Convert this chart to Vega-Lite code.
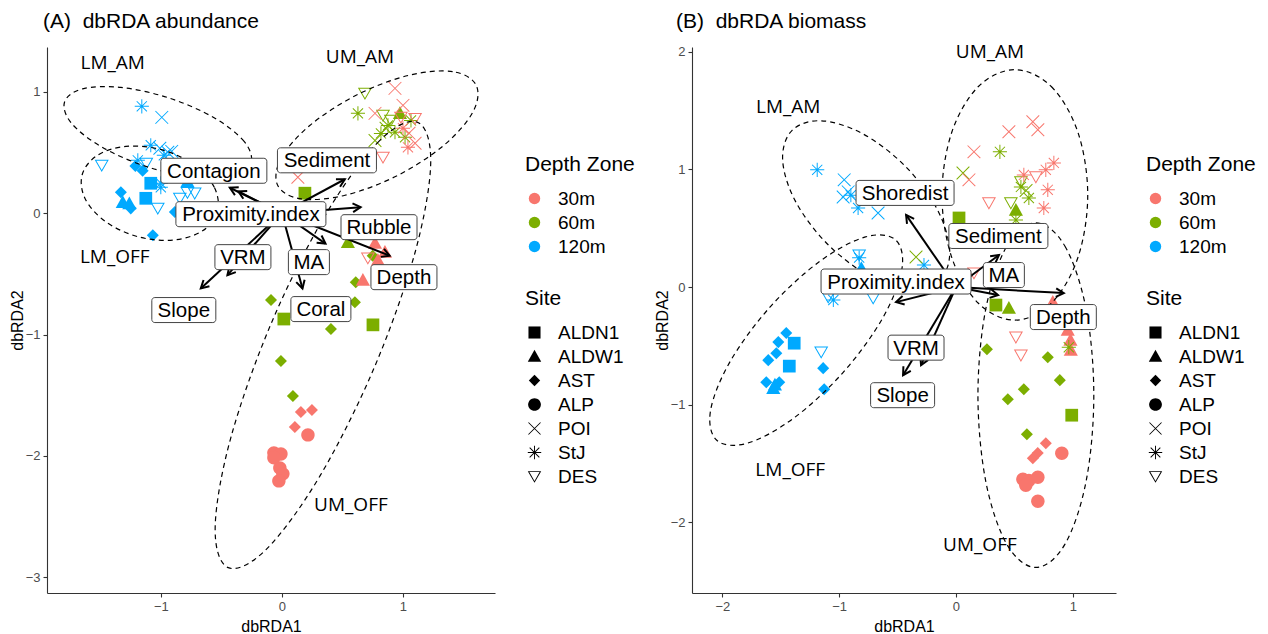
{
  "$schema": "https://vega.github.io/schema/vega-lite/v6.json",
  "background": "white",
  "padding": {"left": 9, "top": 10, "right": 5, "bottom": 5},
  "config": {
    "font": "Liberation Sans",
    "view": {"stroke": null},
    "axis": {
      "grid": false,
      "domainColor": "#333333",
      "domainWidth": 1.1,
      "tickColor": "#333333",
      "tickWidth": 1.1,
      "tickSize": 4,
      "labelPadding": 3,
      "labelColor": "#4D4D4D",
      "labelFont": "Liberation Sans",
      "labelFontSize": 13,
      "titleFont": "Liberation Sans",
      "titleFontSize": 16,
      "titleFontWeight": "normal",
      "titleColor": "black"
    },
    "axisX": {"titlePadding": 5},
    "axisY": {"titlePadding": 0},
    "title": {
      "font": "Liberation Sans",
      "fontSize": 21,
      "fontWeight": "normal",
      "color": "black",
      "anchor": "start",
      "frame": "group"
    },
    "legend": {
      "titleFont": "Liberation Sans",
      "titleFontSize": 21,
      "titleFontWeight": "normal",
      "titleColor": "black",
      "titlePadding": 14,
      "labelFont": "Liberation Sans",
      "labelFontSize": 19,
      "labelColor": "black",
      "labelOffset": 14,
      "rowPadding": 4,
      "offset": 30,
      "layout": {"right": {"anchor": "middle", "direction": "vertical", "margin": 31}}
    }
  },
  "datasets": {
    "sitesA": [
      {"x": -1.157, "y": 0.881, "Depth": "120m", "Site": "StJ"},
      {"x": -0.992, "y": 0.79, "Depth": "120m", "Site": "POI"},
      {"x": -1.083, "y": 0.56, "Depth": "120m", "Site": "StJ"},
      {"x": -1.008, "y": 0.535, "Depth": "120m", "Site": "POI"},
      {"x": -0.942, "y": 0.502, "Depth": "120m", "Site": "POI"},
      {"x": -0.91, "y": 0.51, "Depth": "120m", "Site": "POI"},
      {"x": -0.975, "y": 0.477, "Depth": "120m", "Site": "StJ"},
      {"x": -1.19, "y": 0.436, "Depth": "120m", "Site": "StJ"},
      {"x": -1.488, "y": 0.395, "Depth": "120m", "Site": "DES"},
      {"x": -1.12, "y": 0.41, "Depth": "120m", "Site": "DES"},
      {"x": -1.21, "y": 0.39, "Depth": "120m", "Site": "AST"},
      {"x": -1.15, "y": 0.35, "Depth": "120m", "Site": "AST"},
      {"x": -1.083, "y": 0.247, "Depth": "120m", "Site": "ALDN1"},
      {"x": -1.0, "y": 0.247, "Depth": "120m", "Site": "StJ"},
      {"x": -1.0, "y": 0.214, "Depth": "120m", "Site": "StJ"},
      {"x": -1.124, "y": 0.123, "Depth": "120m", "Site": "ALDN1"},
      {"x": -1.33, "y": 0.173, "Depth": "120m", "Site": "AST"},
      {"x": -1.314, "y": 0.09, "Depth": "120m", "Site": "ALDW1"},
      {"x": -1.26, "y": 0.08, "Depth": "120m", "Site": "ALDW1"},
      {"x": -1.248, "y": 0.04, "Depth": "120m", "Site": "AST"},
      {"x": -1.025, "y": 0.04, "Depth": "120m", "Site": "DES"},
      {"x": -0.72, "y": 0.165, "Depth": "120m", "Site": "DES"},
      {"x": -0.78, "y": 0.17, "Depth": "120m", "Site": "DES"},
      {"x": -0.843, "y": 0.123, "Depth": "120m", "Site": "DES"},
      {"x": -0.78, "y": 0.26, "Depth": "120m", "Site": "ALDW1"},
      {"x": -0.884, "y": 0.01, "Depth": "120m", "Site": "AST"},
      {"x": -1.066, "y": -0.181, "Depth": "120m", "Site": "AST"},
      {"x": 0.686, "y": 0.988, "Depth": "60m", "Site": "DES"},
      {"x": 0.628, "y": 0.823, "Depth": "60m", "Site": "StJ"},
      {"x": 0.835, "y": 0.807, "Depth": "60m", "Site": "DES"},
      {"x": 0.975, "y": 0.823, "Depth": "60m", "Site": "ALDW1"},
      {"x": 0.876, "y": 0.724, "Depth": "60m", "Site": "StJ"},
      {"x": 0.934, "y": 0.667, "Depth": "60m", "Site": "StJ"},
      {"x": 1.017, "y": 0.626, "Depth": "60m", "Site": "StJ"},
      {"x": 0.818, "y": 0.658, "Depth": "60m", "Site": "StJ"},
      {"x": 0.769, "y": 0.6, "Depth": "60m", "Site": "POI"},
      {"x": 0.9, "y": 0.765, "Depth": "60m", "Site": "DES"},
      {"x": 1.066, "y": 0.765, "Depth": "60m", "Site": "StJ"},
      {"x": 0.86, "y": 0.7, "Depth": "60m", "Site": "POI"},
      {"x": 0.19, "y": 0.165, "Depth": "60m", "Site": "ALDN1"},
      {"x": 0.545, "y": -0.24, "Depth": "60m", "Site": "ALDW1"},
      {"x": 0.75, "y": -0.35, "Depth": "60m", "Site": "AST"},
      {"x": 0.61, "y": -0.568, "Depth": "60m", "Site": "AST"},
      {"x": 0.603, "y": -0.733, "Depth": "60m", "Site": "AST"},
      {"x": 0.405, "y": -0.955, "Depth": "60m", "Site": "AST"},
      {"x": 0.752, "y": -0.92, "Depth": "60m", "Site": "ALDN1"},
      {"x": 0.016, "y": -0.872, "Depth": "60m", "Site": "ALDN1"},
      {"x": -0.09, "y": -0.716, "Depth": "60m", "Site": "AST"},
      {"x": -0.008, "y": -1.218, "Depth": "60m", "Site": "AST"},
      {"x": 0.091, "y": -1.506, "Depth": "60m", "Site": "AST"},
      {"x": 0.934, "y": 1.029, "Depth": "30m", "Site": "POI"},
      {"x": 1.0, "y": 0.889, "Depth": "30m", "Site": "POI"},
      {"x": 0.769, "y": 0.823, "Depth": "30m", "Site": "POI"},
      {"x": 1.1, "y": 0.78, "Depth": "30m", "Site": "DES"},
      {"x": 0.983, "y": 0.79, "Depth": "30m", "Site": "DES"},
      {"x": 1.0, "y": 0.7, "Depth": "30m", "Site": "StJ"},
      {"x": 1.05, "y": 0.66, "Depth": "30m", "Site": "POI"},
      {"x": 1.041, "y": 0.543, "Depth": "30m", "Site": "StJ"},
      {"x": 1.1, "y": 0.576, "Depth": "30m", "Site": "POI"},
      {"x": 0.835, "y": 0.461, "Depth": "30m", "Site": "DES"},
      {"x": 0.132, "y": 0.296, "Depth": "30m", "Site": "POI"},
      {"x": 0.769, "y": -0.247, "Depth": "30m", "Site": "ALDW1"},
      {"x": 0.851, "y": -0.321, "Depth": "30m", "Site": "ALDW1"},
      {"x": 0.793, "y": -0.387, "Depth": "30m", "Site": "ALDW1"},
      {"x": 0.669, "y": -0.551, "Depth": "30m", "Site": "ALDW1"},
      {"x": 0.71, "y": -0.37, "Depth": "30m", "Site": "DES"},
      {"x": 0.157, "y": -1.638, "Depth": "30m", "Site": "AST"},
      {"x": 0.248, "y": -1.621, "Depth": "30m", "Site": "AST"},
      {"x": 0.107, "y": -1.761, "Depth": "30m", "Site": "AST"},
      {"x": 0.215, "y": -1.827, "Depth": "30m", "Site": "ALP"},
      {"x": -0.066, "y": -1.975, "Depth": "30m", "Site": "ALP"},
      {"x": -0.008, "y": -1.984, "Depth": "30m", "Site": "ALP"},
      {"x": -0.066, "y": -2.016, "Depth": "30m", "Site": "ALP"},
      {"x": -0.017, "y": -2.099, "Depth": "30m", "Site": "ALP"},
      {"x": 0.008, "y": -2.148, "Depth": "30m", "Site": "ALP"},
      {"x": -0.025, "y": -2.206, "Depth": "30m", "Site": "ALP"}
    ],
    "sitesB": [
      {"x": -1.188, "y": 0.996, "Depth": "120m", "Site": "StJ"},
      {"x": -0.957, "y": 0.911, "Depth": "120m", "Site": "POI"},
      {"x": -0.923, "y": 0.809, "Depth": "120m", "Site": "POI"},
      {"x": -0.966, "y": 0.766, "Depth": "120m", "Site": "POI"},
      {"x": -0.9, "y": 0.78, "Depth": "120m", "Site": "StJ"},
      {"x": -0.838, "y": 0.672, "Depth": "120m", "Site": "StJ"},
      {"x": -0.667, "y": 0.63, "Depth": "120m", "Site": "POI"},
      {"x": -0.829, "y": 0.272, "Depth": "120m", "Site": "DES"},
      {"x": -0.829, "y": 0.25, "Depth": "120m", "Site": "StJ"},
      {"x": -0.81, "y": 0.16, "Depth": "120m", "Site": "ALDW1"},
      {"x": -0.274, "y": 0.187, "Depth": "120m", "Site": "StJ"},
      {"x": -1.094, "y": -0.085, "Depth": "120m", "Site": "DES"},
      {"x": -1.05, "y": -0.11, "Depth": "120m", "Site": "StJ"},
      {"x": -0.709, "y": -0.094, "Depth": "120m", "Site": "DES"},
      {"x": -1.453, "y": -0.391, "Depth": "120m", "Site": "AST"},
      {"x": -1.521, "y": -0.468, "Depth": "120m", "Site": "AST"},
      {"x": -1.538, "y": -0.562, "Depth": "120m", "Site": "AST"},
      {"x": -1.607, "y": -0.621, "Depth": "120m", "Site": "AST"},
      {"x": -1.385, "y": -0.477, "Depth": "120m", "Site": "ALDN1"},
      {"x": -1.427, "y": -0.672, "Depth": "120m", "Site": "ALDN1"},
      {"x": -1.624, "y": -0.809, "Depth": "120m", "Site": "AST"},
      {"x": -1.513, "y": -0.809, "Depth": "120m", "Site": "AST"},
      {"x": -1.564, "y": -0.86, "Depth": "120m", "Site": "ALDW1"},
      {"x": -1.55, "y": -0.83, "Depth": "120m", "Site": "ALDW1"},
      {"x": -1.154, "y": -0.553, "Depth": "120m", "Site": "DES"},
      {"x": -1.137, "y": -0.689, "Depth": "120m", "Site": "AST"},
      {"x": -1.128, "y": -0.868, "Depth": "120m", "Site": "AST"},
      {"x": 0.376, "y": 1.149, "Depth": "60m", "Site": "StJ"},
      {"x": 0.06, "y": 0.97, "Depth": "60m", "Site": "POI"},
      {"x": 0.556, "y": 0.894, "Depth": "60m", "Site": "DES"},
      {"x": 0.556, "y": 0.851, "Depth": "60m", "Site": "StJ"},
      {"x": 0.6, "y": 0.82, "Depth": "60m", "Site": "POI"},
      {"x": 0.624, "y": 0.757, "Depth": "60m", "Site": "StJ"},
      {"x": 0.47, "y": 0.715, "Depth": "60m", "Site": "DES"},
      {"x": 0.513, "y": 0.655, "Depth": "60m", "Site": "ALDW1"},
      {"x": 0.513, "y": 0.57, "Depth": "60m", "Site": "StJ"},
      {"x": 0.026, "y": 0.587, "Depth": "60m", "Site": "ALDN1"},
      {"x": -0.342, "y": 0.255, "Depth": "60m", "Site": "POI"},
      {"x": 0.342, "y": -0.153, "Depth": "60m", "Site": "ALDN1"},
      {"x": 0.453, "y": -0.179, "Depth": "60m", "Site": "ALDW1"},
      {"x": 0.265, "y": -0.528, "Depth": "60m", "Site": "AST"},
      {"x": 0.786, "y": -0.596, "Depth": "60m", "Site": "AST"},
      {"x": 0.889, "y": -0.791, "Depth": "60m", "Site": "AST"},
      {"x": 0.581, "y": -0.868, "Depth": "60m", "Site": "AST"},
      {"x": 0.444, "y": -0.953, "Depth": "60m", "Site": "AST"},
      {"x": 0.991, "y": -1.089, "Depth": "60m", "Site": "ALDN1"},
      {"x": 0.607, "y": -1.251, "Depth": "60m", "Site": "AST"},
      {"x": 0.154, "y": 1.149, "Depth": "30m", "Site": "POI"},
      {"x": 0.453, "y": 1.319, "Depth": "30m", "Site": "POI"},
      {"x": 0.658, "y": 1.404, "Depth": "30m", "Site": "POI"},
      {"x": 0.701, "y": 1.336, "Depth": "30m", "Site": "POI"},
      {"x": 0.111, "y": 0.911, "Depth": "30m", "Site": "POI"},
      {"x": 0.838, "y": 1.055, "Depth": "30m", "Site": "StJ"},
      {"x": 0.769, "y": 0.996, "Depth": "30m", "Site": "StJ"},
      {"x": 0.581, "y": 0.953, "Depth": "30m", "Site": "StJ"},
      {"x": 0.786, "y": 0.826, "Depth": "30m", "Site": "StJ"},
      {"x": 0.752, "y": 0.672, "Depth": "30m", "Site": "StJ"},
      {"x": 0.282, "y": 0.715, "Depth": "30m", "Site": "DES"},
      {"x": 0.684, "y": 0.936, "Depth": "30m", "Site": "DES"},
      {"x": 0.154, "y": 0.119, "Depth": "30m", "Site": "DES"},
      {"x": 0.513, "y": -0.426, "Depth": "30m", "Site": "DES"},
      {"x": 0.556, "y": -0.579, "Depth": "30m", "Site": "DES"},
      {"x": 0.829, "y": -0.128, "Depth": "30m", "Site": "ALDW1"},
      {"x": 0.957, "y": -0.366, "Depth": "30m", "Site": "ALDW1"},
      {"x": 0.98, "y": -0.45, "Depth": "30m", "Site": "ALDW1"},
      {"x": 0.983, "y": -0.536, "Depth": "30m", "Site": "ALDW1"},
      {"x": 0.966, "y": -0.511, "Depth": "60m", "Site": "StJ"},
      {"x": 0.769, "y": -1.328, "Depth": "30m", "Site": "AST"},
      {"x": 0.7, "y": -1.41, "Depth": "30m", "Site": "AST"},
      {"x": 0.658, "y": -1.455, "Depth": "30m", "Site": "AST"},
      {"x": 0.906, "y": -1.413, "Depth": "30m", "Site": "ALP"},
      {"x": 0.573, "y": -1.634, "Depth": "30m", "Site": "ALP"},
      {"x": 0.624, "y": -1.643, "Depth": "30m", "Site": "ALP"},
      {"x": 0.701, "y": -1.617, "Depth": "30m", "Site": "ALP"},
      {"x": 0.598, "y": -1.685, "Depth": "30m", "Site": "ALP"},
      {"x": 0.701, "y": -1.821, "Depth": "30m", "Site": "ALP"}
    ],
    "ellipsesA": [
      {"group": "LM_AM", "i": 0, "x": -0.255, "y": 0.417},
      {"group": "LM_AM", "i": 1, "x": -0.312, "y": 0.592},
      {"group": "LM_AM", "i": 2, "x": -0.56, "y": 0.787},
      {"group": "LM_AM", "i": 3, "x": -0.933, "y": 0.95},
      {"group": "LM_AM", "i": 4, "x": -1.33, "y": 1.037},
      {"group": "LM_AM", "i": 5, "x": -1.646, "y": 1.025},
      {"group": "LM_AM", "i": 6, "x": -1.795, "y": 0.917},
      {"group": "LM_AM", "i": 7, "x": -1.738, "y": 0.742},
      {"group": "LM_AM", "i": 8, "x": -1.49, "y": 0.547},
      {"group": "LM_AM", "i": 9, "x": -1.117, "y": 0.384},
      {"group": "LM_AM", "i": 10, "x": -0.72, "y": 0.297},
      {"group": "LM_AM", "i": 11, "x": -0.404, "y": 0.309},
      {"group": "LM_OFF", "i": 0, "x": -0.532, "y": 0.015},
      {"group": "LM_OFF", "i": 1, "x": -0.559, "y": 0.215},
      {"group": "LM_OFF", "i": 2, "x": -0.729, "y": 0.401},
      {"group": "LM_OFF", "i": 3, "x": -0.995, "y": 0.524},
      {"group": "LM_OFF", "i": 4, "x": -1.288, "y": 0.551},
      {"group": "LM_OFF", "i": 5, "x": -1.527, "y": 0.475},
      {"group": "LM_OFF", "i": 6, "x": -1.65, "y": 0.315},
      {"group": "LM_OFF", "i": 7, "x": -1.623, "y": 0.116},
      {"group": "LM_OFF", "i": 8, "x": -1.454, "y": -0.071},
      {"group": "LM_OFF", "i": 9, "x": -1.187, "y": -0.194},
      {"group": "LM_OFF", "i": 10, "x": -0.895, "y": -0.221},
      {"group": "LM_OFF", "i": 11, "x": -0.655, "y": -0.145},
      {"group": "UM_AM", "i": 0, "x": 1.604, "y": 1.056},
      {"group": "UM_AM", "i": 1, "x": 1.41, "y": 1.167},
      {"group": "UM_AM", "i": 2, "x": 1.049, "y": 1.137},
      {"group": "UM_AM", "i": 3, "x": 0.617, "y": 0.974},
      {"group": "UM_AM", "i": 4, "x": 0.23, "y": 0.723},
      {"group": "UM_AM", "i": 5, "x": -0.008, "y": 0.45},
      {"group": "UM_AM", "i": 6, "x": -0.034, "y": 0.228},
      {"group": "UM_AM", "i": 7, "x": 0.16, "y": 0.118},
      {"group": "UM_AM", "i": 8, "x": 0.521, "y": 0.148},
      {"group": "UM_AM", "i": 9, "x": 0.953, "y": 0.31},
      {"group": "UM_AM", "i": 10, "x": 1.34, "y": 0.562},
      {"group": "UM_AM", "i": 11, "x": 1.578, "y": 0.835},
      {"group": "UM_OFF", "i": 0, "x": 1.121, "y": 0.749},
      {"group": "UM_OFF", "i": 1, "x": 0.803, "y": 0.594},
      {"group": "UM_OFF", "i": 2, "x": 0.361, "y": -0.012},
      {"group": "UM_OFF", "i": 3, "x": -0.087, "y": -0.905},
      {"group": "UM_OFF", "i": 4, "x": -0.421, "y": -1.847},
      {"group": "UM_OFF", "i": 5, "x": -0.551, "y": -2.585},
      {"group": "UM_OFF", "i": 6, "x": -0.443, "y": -2.921},
      {"group": "UM_OFF", "i": 7, "x": -0.125, "y": -2.766},
      {"group": "UM_OFF", "i": 8, "x": 0.317, "y": -2.161},
      {"group": "UM_OFF", "i": 9, "x": 0.765, "y": -1.267},
      {"group": "UM_OFF", "i": 10, "x": 1.099, "y": -0.326},
      {"group": "UM_OFF", "i": 11, "x": 1.229, "y": 0.413}
    ],
    "ellipsesB": [
      {"group": "LM_AM", "i": 0, "x": -0.135, "y": 0.064},
      {"group": "LM_AM", "i": 1, "x": -0.054, "y": 0.315},
      {"group": "LM_AM", "i": 2, "x": -0.165, "y": 0.669},
      {"group": "LM_AM", "i": 3, "x": -0.437, "y": 1.03},
      {"group": "LM_AM", "i": 4, "x": -0.799, "y": 1.303},
      {"group": "LM_AM", "i": 5, "x": -1.152, "y": 1.413},
      {"group": "LM_AM", "i": 6, "x": -1.403, "y": 1.332},
      {"group": "LM_AM", "i": 7, "x": -1.484, "y": 1.081},
      {"group": "LM_AM", "i": 8, "x": -1.374, "y": 0.728},
      {"group": "LM_AM", "i": 9, "x": -1.101, "y": 0.366},
      {"group": "LM_AM", "i": 10, "x": -0.74, "y": 0.094},
      {"group": "LM_AM", "i": 11, "x": -0.386, "y": -0.017},
      {"group": "LM_OFF", "i": 0, "x": -0.516, "y": 0.4},
      {"group": "LM_OFF", "i": 1, "x": -0.464, "y": 0.146},
      {"group": "LM_OFF", "i": 2, "x": -0.63, "y": -0.268},
      {"group": "LM_OFF", "i": 3, "x": -0.971, "y": -0.731},
      {"group": "LM_OFF", "i": 4, "x": -1.396, "y": -1.119},
      {"group": "LM_OFF", "i": 5, "x": -1.79, "y": -1.328},
      {"group": "LM_OFF", "i": 6, "x": -2.048, "y": -1.302},
      {"group": "LM_OFF", "i": 7, "x": -2.101, "y": -1.048},
      {"group": "LM_OFF", "i": 8, "x": -1.934, "y": -0.634},
      {"group": "LM_OFF", "i": 9, "x": -1.593, "y": -0.171},
      {"group": "LM_OFF", "i": 10, "x": -1.168, "y": 0.217},
      {"group": "LM_OFF", "i": 11, "x": -0.775, "y": 0.426},
      {"group": "UM_AM", "i": 0, "x": 0.504, "y": 1.847},
      {"group": "UM_AM", "i": 1, "x": 0.816, "y": 1.704},
      {"group": "UM_AM", "i": 2, "x": 1.044, "y": 1.315},
      {"group": "UM_AM", "i": 3, "x": 1.128, "y": 0.783},
      {"group": "UM_AM", "i": 4, "x": 1.044, "y": 0.251},
      {"group": "UM_AM", "i": 5, "x": 0.816, "y": -0.138},
      {"group": "UM_AM", "i": 6, "x": 0.504, "y": -0.281},
      {"group": "UM_AM", "i": 7, "x": 0.192, "y": -0.138},
      {"group": "UM_AM", "i": 8, "x": -0.036, "y": 0.251},
      {"group": "UM_AM", "i": 9, "x": -0.12, "y": 0.783},
      {"group": "UM_AM", "i": 10, "x": -0.036, "y": 1.315},
      {"group": "UM_AM", "i": 11, "x": 0.192, "y": 1.704},
      {"group": "UM_OFF", "i": 0, "x": 0.684, "y": 0.545},
      {"group": "UM_OFF", "i": 1, "x": 0.932, "y": 0.349},
      {"group": "UM_OFF", "i": 2, "x": 1.114, "y": -0.187},
      {"group": "UM_OFF", "i": 3, "x": 1.18, "y": -0.919},
      {"group": "UM_OFF", "i": 4, "x": 1.114, "y": -1.651},
      {"group": "UM_OFF", "i": 5, "x": 0.932, "y": -2.187},
      {"group": "UM_OFF", "i": 6, "x": 0.684, "y": -2.383},
      {"group": "UM_OFF", "i": 7, "x": 0.436, "y": -2.187},
      {"group": "UM_OFF", "i": 8, "x": 0.255, "y": -1.651},
      {"group": "UM_OFF", "i": 9, "x": 0.188, "y": -0.919},
      {"group": "UM_OFF", "i": 10, "x": 0.255, "y": -0.187},
      {"group": "UM_OFF", "i": 11, "x": 0.436, "y": 0.349}
    ],
    "vectorsA": [
      {"variable": "Contagion", "x": -0.43, "y": 0.21},
      {"variable": "Proximity.index", "x": -0.36, "y": 0.18},
      {"variable": "Sediment", "x": 0.52, "y": 0.28},
      {"variable": "Rubble", "x": 0.65, "y": 0.05},
      {"variable": "Depth", "x": 0.89, "y": -0.35},
      {"variable": "MA", "x": 0.36, "y": -0.25},
      {"variable": "Coral", "x": 0.17, "y": -0.62},
      {"variable": "VRM", "x": -0.45, "y": -0.51},
      {"variable": "Slope", "x": -0.67, "y": -0.62}
    ],
    "vectorsB": [
      {"variable": "Shoredist", "x": -0.427, "y": 0.613},
      {"variable": "Proximity.index", "x": -0.513, "y": -0.128},
      {"variable": "Sediment", "x": 0.368, "y": 0.272},
      {"variable": "MA", "x": 0.36, "y": -0.068},
      {"variable": "Depth", "x": 0.923, "y": -0.051},
      {"variable": "VRM", "x": -0.299, "y": -0.664},
      {"variable": "Slope", "x": -0.453, "y": -0.749}
    ],
    "labelsA": [
      {"label": "Contagion", "x": -0.562, "y": 0.35},
      {"label": "Sediment", "x": 0.372, "y": 0.436},
      {"label": "Proximity.index", "x": -0.256, "y": -0.008},
      {"label": "Rubble", "x": 0.802, "y": -0.115},
      {"label": "Depth", "x": 1.008, "y": -0.527},
      {"label": "VRM", "x": -0.322, "y": -0.362},
      {"label": "MA", "x": 0.223, "y": -0.403},
      {"label": "Slope", "x": -0.81, "y": -0.798},
      {"label": "Coral", "x": 0.322, "y": -0.79}
    ],
    "labelsB": [
      {"label": "Shoredist", "x": -0.436, "y": 0.8},
      {"label": "Proximity.index", "x": -0.513, "y": 0.047},
      {"label": "Sediment", "x": 0.363, "y": 0.434},
      {"label": "MA", "x": 0.41, "y": 0.102},
      {"label": "Depth", "x": 0.919, "y": -0.255},
      {"label": "VRM", "x": -0.342, "y": -0.515},
      {"label": "Slope", "x": -0.457, "y": -0.919}
    ],
    "zonesA": [
      {"zone": "LM_AM", "x": -1.397, "y": 1.235},
      {"zone": "UM_AM", "x": 0.645, "y": 1.284},
      {"zone": "LM_OFF", "x": -1.38, "y": -0.362},
      {"zone": "UM_OFF", "x": 0.57, "y": -2.403}
    ],
    "zonesB": [
      {"zone": "UM_AM", "x": 0.291, "y": 2.0},
      {"zone": "LM_AM", "x": -1.436, "y": 1.532},
      {"zone": "LM_OFF", "x": -1.419, "y": -1.557},
      {"zone": "UM_OFF", "x": 0.205, "y": -2.196}
    ]
  },
  "hconcat": [
    {
      "title": {"text": "(A)\u00a0 dbRDA abundance", "dx": -4, "offset": 15},
      "width": 448,
      "height": 546,
      "encoding": {
        "x": {"field": "x", "type": "quantitative", "scale": {"domain": [-1.94, 1.76], "nice": false, "zero": false}, "axis": {"title": "dbRDA1", "values": [-1, 0, 1]}},
        "y": {"field": "y", "type": "quantitative", "scale": {"domain": [-3.13, 1.37], "nice": false, "zero": false}, "axis": {"title": "dbRDA2", "values": [-3, -2, -1, 0, 1]}}
      },
      "layer": [
        {
          "data": {"name": "sitesA"},
          "mark": {"type": "point", "filled": true, "size": 200, "opacity": 1},
          "encoding": {
            "color": {"field": "Depth", "type": "nominal", "title": "Depth Zone", "scale": {"domain": ["30m", "60m", "120m"], "range": ["#F8766D", "#7CAE00", "#00A9FF"]}, "legend": {"symbolType": "circle", "symbolSize": 130, "symbolOpacity": 1}},
            "shape": {"field": "Site", "type": "nominal", "title": "Site", "scale": {"domain": ["ALDN1", "ALDW1", "AST", "ALP", "POI", "StJ", "DES"], "range": ["M-0.9,-0.9H0.9V0.9H-0.9Z", "M0,-1L1,0.8H-1Z", "M0,-0.85L0.85,0L0,0.85L-0.85,0Z", "M-0.95,0A0.95,0.95,0,1,0,0.95,0A0.95,0.95,0,1,0,-0.95,0Z", "M-0.85,-0.95L0.95,0.85L0.85,0.95L-0.95,-0.85ZM-0.95,0.85L0.85,-0.95L0.95,-0.85L-0.85,0.95Z", "M-1,-0.07H1V0.07H-1ZM-0.07,-1H0.07V1H-0.07ZM-0.67,-0.77L0.77,0.67L0.67,0.77L-0.77,-0.67ZM-0.77,0.67L0.67,-0.77L0.77,-0.67L-0.67,0.77Z", "M-1,-0.8L1,-0.8L0,0.95ZM-0.76,-0.66L0,0.67L0.76,-0.66Z"]}, "legend": {"symbolSize": 180, "symbolFillColor": "black", "symbolStrokeWidth": 0, "symbolOpacity": 1}}
          }
        },
        {
          "data": {"name": "ellipsesA"},
          "mark": {"type": "line", "interpolate": "cardinal-closed", "strokeDash": [5, 4], "color": "black", "strokeWidth": 1.2},
          "encoding": {"detail": {"field": "group", "type": "nominal"}, "order": {"field": "i", "type": "quantitative"}}
        },
        {
          "data": {"name": "vectorsA"},
          "mark": {"type": "rule", "color": "black", "strokeWidth": 2},
          "encoding": {"x2": {"datum": 0}, "y2": {"datum": 0}}
        },
        {
          "data": {"name": "vectorsA"},
          "mark": {"type": "point", "shape": "M-0.5,0.9L0,0L0.5,0.9", "size": 300, "filled": false, "stroke": "black", "strokeWidth": 2, "opacity": 1, "angle": {"expr": "atan2(datum.x, datum.y) * 180 / PI"}},
          "encoding": {}
        },
        {
          "data": {"name": "labelsA"},
          "mark": {"type": "rect", "fill": "white", "stroke": "#444444", "strokeWidth": 1, "cornerRadius": 3, "height": 25, "width": {"expr": "datum.label === 'Contagion' ? 106 : datum.label === 'Sediment' ? 99 : datum.label === 'Proximity.index' ? 150 : datum.label === 'Rubble' ? 76 : datum.label === 'Depth' ? 66 : datum.label === 'VRM' ? 56 : datum.label === 'MA' ? 41 : datum.label === 'Slope' ? 64 : datum.label === 'Coral' ? 60 : datum.label === 'Shoredist' ? 98 : 60"}},
          "encoding": {}
        },
        {
          "data": {"name": "labelsA"},
          "mark": {"type": "text", "align": "center", "baseline": "middle", "dy": 1, "font": "Liberation Sans", "fontSize": 20.5, "color": "black"},
          "encoding": {"text": {"field": "label"}}
        },
        {
          "data": {"name": "zonesA"},
          "mark": {"type": "text", "font": "Open Sans", "fontSize": 19, "color": "black"},
          "encoding": {"text": {"field": "zone"}}
        }
      ]
    },
    {
      "title": {"text": "(B)\u00a0 dbRDA biomass", "dx": -16, "offset": 11},
      "width": 424,
      "height": 546,
      "encoding": {
        "x": {"field": "x", "type": "quantitative", "scale": {"domain": [-2.26, 1.37], "nice": false, "zero": false}, "axis": {"title": "dbRDA1", "values": [-2, -1, 0, 1]}},
        "y": {"field": "y", "type": "quantitative", "scale": {"domain": [-2.6, 2.04], "nice": false, "zero": false}, "axis": {"title": "dbRDA2", "values": [-2, -1, 0, 1, 2]}}
      },
      "layer": [
        {
          "data": {"name": "sitesB"},
          "mark": {"type": "point", "filled": true, "size": 200, "opacity": 1},
          "encoding": {
            "color": {"field": "Depth", "type": "nominal", "title": "Depth Zone", "scale": {"domain": ["30m", "60m", "120m"], "range": ["#F8766D", "#7CAE00", "#00A9FF"]}, "legend": {"symbolType": "circle", "symbolSize": 130, "symbolOpacity": 1}},
            "shape": {"field": "Site", "type": "nominal", "title": "Site", "scale": {"domain": ["ALDN1", "ALDW1", "AST", "ALP", "POI", "StJ", "DES"], "range": ["M-0.9,-0.9H0.9V0.9H-0.9Z", "M0,-1L1,0.8H-1Z", "M0,-0.85L0.85,0L0,0.85L-0.85,0Z", "M-0.95,0A0.95,0.95,0,1,0,0.95,0A0.95,0.95,0,1,0,-0.95,0Z", "M-0.85,-0.95L0.95,0.85L0.85,0.95L-0.95,-0.85ZM-0.95,0.85L0.85,-0.95L0.95,-0.85L-0.85,0.95Z", "M-1,-0.07H1V0.07H-1ZM-0.07,-1H0.07V1H-0.07ZM-0.67,-0.77L0.77,0.67L0.67,0.77L-0.77,-0.67ZM-0.77,0.67L0.67,-0.77L0.77,-0.67L-0.67,0.77Z", "M-1,-0.8L1,-0.8L0,0.95ZM-0.76,-0.66L0,0.67L0.76,-0.66Z"]}, "legend": {"symbolSize": 180, "symbolFillColor": "black", "symbolStrokeWidth": 0, "symbolOpacity": 1}}
          }
        },
        {
          "data": {"name": "ellipsesB"},
          "mark": {"type": "line", "interpolate": "cardinal-closed", "strokeDash": [5, 4], "color": "black", "strokeWidth": 1.2},
          "encoding": {"detail": {"field": "group", "type": "nominal"}, "order": {"field": "i", "type": "quantitative"}}
        },
        {
          "data": {"name": "vectorsB"},
          "mark": {"type": "rule", "color": "black", "strokeWidth": 2},
          "encoding": {"x2": {"datum": 0}, "y2": {"datum": 0}}
        },
        {
          "data": {"name": "vectorsB"},
          "mark": {"type": "point", "shape": "M-0.5,0.9L0,0L0.5,0.9", "size": 300, "filled": false, "stroke": "black", "strokeWidth": 2, "opacity": 1, "angle": {"expr": "atan2(datum.x, datum.y) * 180 / PI"}},
          "encoding": {}
        },
        {
          "data": {"name": "labelsB"},
          "mark": {"type": "rect", "fill": "white", "stroke": "#444444", "strokeWidth": 1, "cornerRadius": 3, "height": 25, "width": {"expr": "datum.label === 'Contagion' ? 106 : datum.label === 'Sediment' ? 99 : datum.label === 'Proximity.index' ? 150 : datum.label === 'Rubble' ? 76 : datum.label === 'Depth' ? 66 : datum.label === 'VRM' ? 56 : datum.label === 'MA' ? 41 : datum.label === 'Slope' ? 64 : datum.label === 'Coral' ? 60 : datum.label === 'Shoredist' ? 98 : 60"}},
          "encoding": {}
        },
        {
          "data": {"name": "labelsB"},
          "mark": {"type": "text", "align": "center", "baseline": "middle", "dy": 1, "font": "Liberation Sans", "fontSize": 20.5, "color": "black"},
          "encoding": {"text": {"field": "label"}}
        },
        {
          "data": {"name": "zonesB"},
          "mark": {"type": "text", "font": "Open Sans", "fontSize": 19, "color": "black"},
          "encoding": {"text": {"field": "zone"}}
        }
      ]
    }
  ],
  "spacing": 19,
  "resolve": {
    "scale": {"x": "independent", "y": "independent", "color": "independent", "shape": "independent"},
    "legend": {"color": "independent", "shape": "independent"}
  }
}
